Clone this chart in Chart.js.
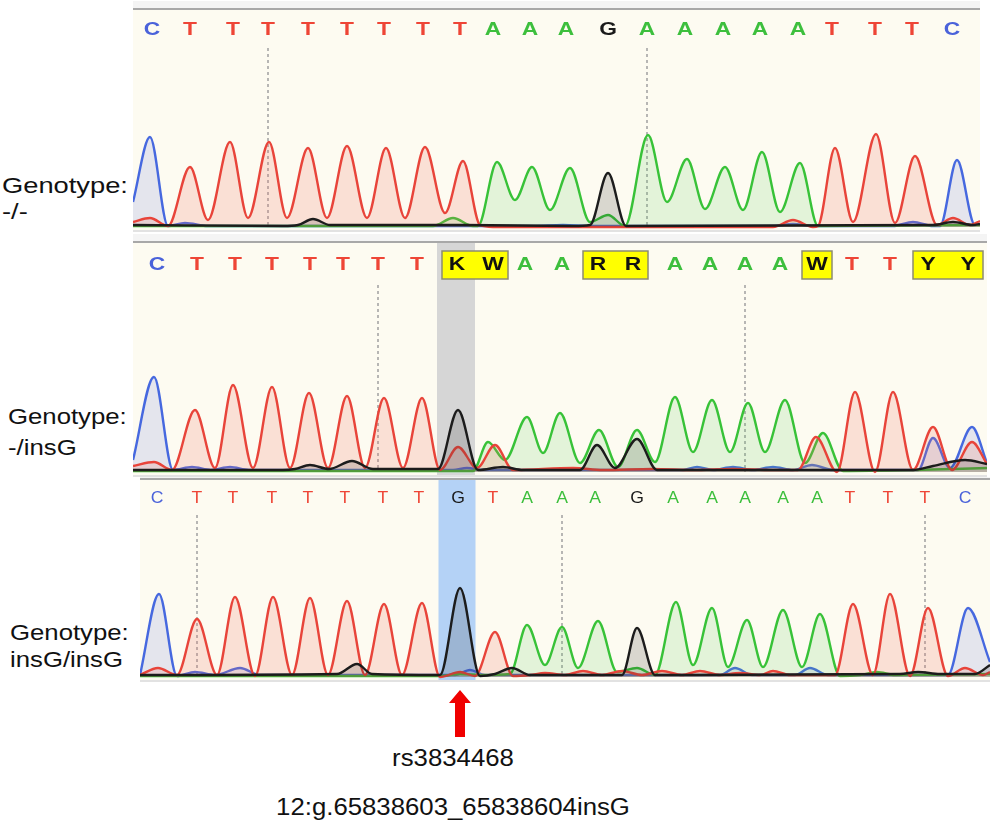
<!DOCTYPE html>
<html><head><meta charset="utf-8">
<script src="https://cdn.jsdelivr.net/npm/chart.js@4.4.0/dist/chart.umd.min.js"></script>
<style>
body{margin:0;background:#fff;width:993px;height:825px;position:relative;overflow:hidden;font-family:"Liberation Sans",Arial,sans-serif;}
canvas{position:absolute;}
.lbl{position:absolute;font-size:22px;color:#111;line-height:26px;transform-origin:left center;transform:scaleX(1.24);white-space:nowrap}
.ctr{position:absolute;font-size:23px;color:#111;line-height:26px;width:400px;text-align:center;transform-origin:center center;transform:scaleX(1.12);white-space:nowrap}
</style></head><body>
<canvas id="c1" style="left:133px;top:0px;width:847px;height:234px" width="847" height="234"></canvas>
<canvas id="c2" style="left:133px;top:233px;width:854px;height:244px" width="854" height="244"></canvas>
<canvas id="c3" style="left:140px;top:477px;width:850px;height:268px" width="850" height="268"></canvas>
<div class="lbl" style="left:2px;top:173px">Genotype:</div>
<div class="lbl" style="left:2px;top:199px">-/-</div>
<div class="lbl" style="left:8px;top:404px;transform:scaleX(1.17)">Genotype:</div>
<div class="lbl" style="left:8px;top:435px;transform:scaleX(1.17)">-/insG</div>
<div class="lbl" style="left:10px;top:620px;transform:scaleX(1.17)">Genotype:</div>
<div class="lbl" style="left:10px;top:647px;transform:scaleX(1.17)">insG/insG</div>
<div class="ctr" style="left:253px;top:745px">rs3834468</div>
<div class="ctr" style="left:253px;top:794px">12:g.65838603_65838604insG</div>
<script>
// ---------- Panel 1 (genotype -/-) ----------
const p1Bases = ['C','T','T','T','T','T','T','T','T','A','A','A','G','A','A','A','A','A','T','T','T','C'];
const p1BasePos = [19,57,100,135,175,214,251,290,327,360,397,433,475,514,552,590,627,665,699,742,779,819];
const p1Ticks = [3,13];
const p1Black = [[0,2],[150,1],[165,2],[180,8],[197,2],[330,2],[440,1],[457,2],[475,54],[493,1],[800,2],[820,5],[840,2],[847,3]];
const p1Red = [[0,5],[17,9],[35,1],[57,60],[75,7],[97,85],[115,9],[136,85],[154,9],[175,79],[194,9],[214,81],[234,9],[253,79],[272,9],[292,80],[312,14],[330,66],[347,2],[360,0],[640,0],[660,7],[680,0],[685,1],[702,79],[720,5],[743,93],[762,4],[782,71],[804,2],[820,9],[837,2],[847,6]];
const p1Green = [[0,1],[300,1],[320,9],[340,1],[345,1],[364,65],[382,27],[399,60],[417,17],[437,59],[457,5],[475,12],[492,1],[515,92],[534,25],[554,68],[572,18],[592,60],[610,17],[629,75],[647,15],[667,64],[685,1],[847,2]];
const p1Blue = [[0,25],[17,90],[35,1],[52,4],[75,1],[400,1],[430,2],[460,1],[640,1],[660,3],[680,1],[760,1],[780,5],[800,1],[807,1],[824,67],[842,2],[847,3]];

// ---------- Panel 2 (genotype -/insG) ----------
const p2Bases = ['C','T','T','T','T','T','T','T','K','W','A','A','R','R','A','A','A','A','W','T','T','Y','Y'];
const p2BasePos = [24,64,102,139,177,210,245,284,324,360,392,429,465,500,542,577,612,647,684,719,757,795,835];
const p2Ticks = [6,16];
const p2Highlight = 8;
const p2Black = [[0,2],[150,2],[162,3],[177,7],[196,3],[219,11],[240,3],[300,3],[305,3],[325,62],[345,2],[370,5],[390,2],[447,2],[464,27],[482,4],[504,33],[524,2],[780,2],[800,6],[832,12],[854,8]];
const p2Red = [[0,6],[21,10],[39,2],[62,62],[82,4],[100,87],[120,4],[139,85],[157,4],[176,79],[195,4],[214,76],[232,4],[251,74],[270,4],[289,74],[307,2],[325,25],[344,4],[362,27],[380,2],[440,4],[470,2],[520,3],[560,2],[600,3],[640,2],[665,2],[683,35],[704,0],[722,80],[742,0],[760,80],[780,2],[800,45],[819,2],[839,30],[854,8]];
const p2Green = [[0,1],[340,1],[355,30],[372,12],[394,55],[410,19],[427,59],[447,9],[466,42],[485,5],[504,42],[522,10],[542,75],[560,20],[579,72],[597,20],[615,69],[632,20],[652,72],[672,9],[690,39],[710,1],[780,2],[854,4]];
const p2Blue = [[0,12],[21,95],[40,2],[59,5],[78,2],[97,5],[116,2],[320,2],[334,4],[350,2],[550,2],[564,5],[580,2],[600,5],[620,2],[640,5],[660,2],[679,7],[700,2],[785,2],[800,34],[817,4],[839,45],[854,9]];

// ---------- Panel 3 (genotype insG/insG) ----------
const p3Bases = ['C','T','T','T','T','T','T','T','G','T','A','A','A','G','A','A','A','A','A','T','T','T','C'];
const p3BasePos = [17,57,93,132,168,205,243,279,318,353,387,422,455,497,533,572,605,643,677,710,748,785,825];
const p3Ticks = [1,11,21];
const p3Highlight = 8;
const p3Black = [[0,2],[197,3],[217,13],[232,3],[300,2],[320,89],[340,1],[355,3],[372,9],[390,2],[482,2],[497,49],[515,2],[760,3],[778,5],[800,3],[835,3],[850,12]];
const p3Red = [[0,2],[18,9],[37,2],[57,58],[77,2],[95,80],[115,1],[133,80],[152,2],[170,79],[188,2],[207,76],[225,2],[244,73],[262,2],[282,74],[300,0],[320,5],[335,1],[355,45],[373,1],[390,2],[405,4],[425,2],[443,6],[462,2],[482,6],[502,2],[522,6],[542,2],[560,6],[580,2],[600,4],[620,2],[633,6],[650,2],[695,2],[713,73],[733,2],[750,83],[770,1],[788,69],[808,1],[825,9],[843,2],[850,5]];
const p3Green = [[0,1],[300,1],[320,3],[340,2],[370,3],[387,52],[405,12],[422,50],[438,9],[458,56],[477,5],[497,9],[515,2],[536,75],[553,12],[572,69],[588,10],[607,57],[623,10],[643,67],[662,10],[680,63],[700,1],[720,2],[737,5],[755,2],[850,3]];
const p3Blue = [[0,2],[19,83],[37,1],[55,5],[75,2],[100,9],[120,2],[315,2],[330,7],[345,2],[580,2],[595,9],[612,2],[655,2],[670,9],[688,2],[808,2],[828,69],[850,15]];

const BASE_COLORS = {A:'#3DBF3D', C:'#4A62DA', T:'#EE4536', G:'#1A1A1A'};
const CH = {
  black:{line:'#1c1c1c', fill:'rgba(40,40,40,0.17)'},
  red:{line:'#E8443A', fill:'rgba(240,110,95,0.19)'},
  green:{line:'#38C238', fill:'rgba(80,200,80,0.15)'},
  blue:{line:'#4668DF', fill:'rgba(80,100,210,0.14)'}
};

function ds(arr, ch){
  return {data: arr.map(p=>({x:p[0], y:p[1]})), borderColor:CH[ch].line, backgroundColor:CH[ch].fill,
    fill:'origin', borderWidth:2.4, pointRadius:0, cubicInterpolationMode:'monotone'};
}

function panelPlugin(P){
  return {
    id:'chrom'+P.id,
    beforeDraw(chart){
      const {ctx, chartArea:a} = chart;
      ctx.save();
      ctx.fillStyle = '#F4F4F4';
      ctx.fillRect(a.left, a.top-9, a.right-a.left, 8);
      ctx.fillStyle = '#FDFBF1';
      ctx.fillRect(a.left, a.top, a.right-a.left, a.bottom-a.top);
      ctx.fillStyle = '#A8A8A8';
      ctx.fillRect(a.left, a.top-2, a.right-a.left, 2);
      ctx.fillStyle = '#E2E2E2';
      ctx.fillRect(a.left, a.bottom, a.right-a.left, 2);
      const xs = chart.scales.x, ys = chart.scales.y;
      if (P.hl !== undefined) {
        const pos = P.pos, i = P.hl;
        const x0 = xs.getPixelForValue((pos[i-1]+pos[i])/2);
        const x1 = xs.getPixelForValue((pos[i]+pos[i+1])/2);
        ctx.fillStyle = P.hlColor;
        ctx.fillRect(x0, a.top, x1-x0, a.bottom-a.top);
      }
      ctx.strokeStyle = '#A0A0A0'; ctx.lineWidth = 1.5; ctx.setLineDash([3,3]);
      P.ticks.forEach(i=>{
        const x = xs.getPixelForValue(P.pos[i]);
        ctx.beginPath(); ctx.moveTo(x, a.top+P.dashTop); ctx.lineTo(x, ys.getPixelForValue(0)); ctx.stroke();
      });
      ctx.setLineDash([]);
      // base letters
      const xsP = i=>xs.getPixelForValue(P.pos[i]);
      let i=0;
      while(i<P.bases.length){
        if(!'ACGT'.includes(P.bases[i])){
          let j=i; while(j+1<P.bases.length && !'ACGT'.includes(P.bases[j+1])) j++;
          const bx0 = xs.getPixelForValue(P.pos[i]-15), bx1 = xs.getPixelForValue(P.pos[j]+15);
          ctx.fillStyle='#FFFF00'; ctx.fillRect(bx0, a.top+P.letterY-14, bx1-bx0, 28);
          ctx.strokeStyle='#8C8C70'; ctx.lineWidth=1.5; ctx.strokeRect(bx0, a.top+P.letterY-14, bx1-bx0, 28);
          i=j+1;
        } else i++;
      }
      ctx.font = P.font; ctx.textAlign='center'; ctx.textBaseline='middle';
      P.bases.forEach((b,k)=>{
        ctx.save();
        ctx.translate(xsP(k), a.top+P.letterY);
        ctx.scale(P.letterScale, 1);
        ctx.fillStyle = BASE_COLORS[b] || '#111';
        ctx.fillText(b, 0, 0);
        ctx.restore();
      });
      ctx.restore();
    },
    afterDraw(chart){
      if(!P.arrow) return;
      const {ctx, chartArea:a} = chart;
      const x = chart.scales.x.getPixelForValue(P.pos[P.hl]) + 2;
      const t = a.bottom + 10;
      ctx.save(); ctx.fillStyle='#F00000';
      ctx.beginPath();
      ctx.moveTo(x, t); ctx.lineTo(x+11, t+13); ctx.lineTo(x+5, t+13); ctx.lineTo(x+5, t+47);
      ctx.lineTo(x-5, t+47); ctx.lineTo(x-5, t+13); ctx.lineTo(x-11, t+13); ctx.closePath(); ctx.fill();
      ctx.restore();
    }
  };
}

function makePanel(P){
  new Chart(document.getElementById(P.id), {
    type:'line',
    data:{datasets:[ds(P.black,'black'), ds(P.red,'red'), ds(P.green,'green'), ds(P.blue,'blue')]},
    options:{
      responsive:false, animation:false, devicePixelRatio:1,
      layout:{padding:P.pad},
      scales:{
        x:{type:'linear', min:0, max:P.xmax, display:false},
        y:{min:-3, max:P.ymax, display:false}
      },
      plugins:{legend:{display:false}, tooltip:{enabled:false}}
    },
    plugins:[panelPlugin(P)]
  });
}

makePanel({id:'c1', bases:p1Bases, pos:p1BasePos, ticks:p1Ticks, black:p1Black, red:p1Red, green:p1Green, blue:p1Blue,
  xmax:847, ymax:217, pad:{top:10,bottom:4,left:0,right:0}, letterY:20, dashTop:38, letterScale:1.2, font:'bold 19px "Liberation Sans", Arial, sans-serif'});
makePanel({id:'c2', bases:p2Bases, pos:p2BasePos, ticks:p2Ticks, hl:p2Highlight, hlColor:'#D6D6D6', black:p2Black, red:p2Red, green:p2Green, blue:p2Blue,
  xmax:854, ymax:229, pad:{top:10,bottom:2,left:0,right:0}, letterY:22, dashTop:42, letterScale:1.2, font:'bold 19px "Liberation Sans", Arial, sans-serif'});
makePanel({id:'c3', bases:p3Bases, pos:p3BasePos, ticks:p3Ticks, hl:p3Highlight, hlColor:'#B4D2F6', arrow:true, black:p3Black, red:p3Red, green:p3Green, blue:p3Blue,
  xmax:850, ymax:197, pad:{top:3,bottom:65,left:0,right:0}, letterY:19, dashTop:35, letterScale:1.1, font:'16px "Liberation Sans", Arial, sans-serif'});
</script>
</body></html>
